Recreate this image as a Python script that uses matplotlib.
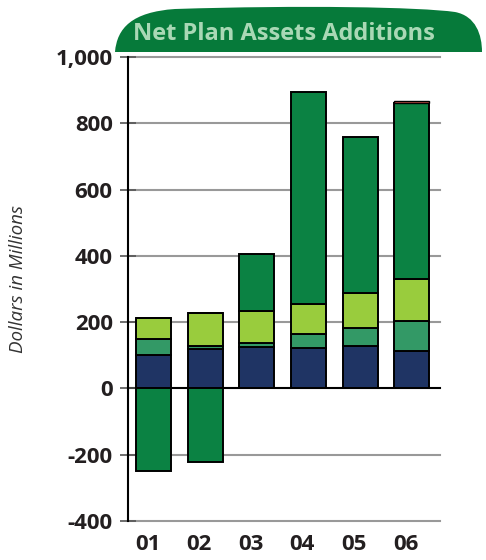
import numpy as np
import matplotlib
matplotlib.use("Agg")
import matplotlib.pyplot as plt
from matplotlib.path import Path
from matplotlib.patches import PathPatch

plt.rcParams["font.family"] = ["Open Sans", "DejaVu Sans"]

years = ["01", "02", "03", "04", "05", "06"]
navy = [100, 120, 124, 121, 127, 112]
teal = [49, 8, 12, 44, 54, 90]
lime = [63, 101, 99, 89, 108, 128]
dgreen = [0, 0, 171, 639, 471, 530]
red = [0, 0, 0, 0, 0, 7]
negative = [-250, -223, 0, 0, 0, 0]

yticks = [-400, -200, 0, 200, 400, 600, 800, 1000]
ytick_labels = ["-400", "-200", "0", "200", "400", "600", "800", "1,000"]

W, H = 486, 560
fig = plt.figure(figsize=(W / 100, H / 100), dpi=100)
ax = fig.add_axes([128 / W, (H - 521) / H, 312 / W, (521 - 57) / H])

x = np.arange(len(years))
width = 0.68
bottom = np.zeros(len(years))
for vals, col in [(navy, "#1f3464"), (teal, "#339966"), (lime, "#99cc3d"),
                  (dgreen, "#0b8243")]:
    v = np.array(vals, dtype=float)
    ax.bar(x, v, width, bottom=bottom, color=col, edgecolor="black",
           linewidth=1.4, zorder=3)
    bottom += v
# thin red slice on top, outlined only where it exists
has_red = np.array(red) > 0
ax.bar(x[has_red], np.array(red)[has_red], width, bottom=bottom[has_red],
       color="#e05a50", edgecolor="black", linewidth=1.0, zorder=4)
ax.bar(x, negative, width, color="#0b8243", edgecolor="black",
       linewidth=1.4, zorder=3)

ax.set_xlim(-0.5, 5.55)
ax.set_ylim(-400, 1000)
ax.set_yticks(yticks)
ax.set_yticklabels(ytick_labels, fontsize=16, fontweight="bold",
                   color="#231f20")
ax.set_xticks(x - 0.12)
ax.set_xticklabels(years, fontsize=16, fontweight="bold", color="#231f20")
ax.tick_params(axis="x", length=0, pad=9)
ax.tick_params(axis="y", length=12, width=1.2, color="#555555",
               direction="inout", pad=5)

for yv in yticks:
    ax.axhline(yv, color="black" if yv == 0 else "#999999", lw=1.5, zorder=1,
               clip_on=False)

for s in ["top", "right", "bottom"]:
    ax.spines[s].set_visible(False)
ax.spines["left"].set_linewidth(1.5)
ax.spines["left"].set_color("black")
ax.spines["left"].set_zorder(5)

fig.text(18 / W, 1 - 279 / H, "Dollars in Millions", rotation=90,
         ha="center", va="center", fontsize=13.5, style="italic",
         color="#333333")

# title banner
pts = [(115, 52), (117, 28), (132, 12), (175, 9),
       (300, 5), (420, 7), (455, 12),
       (476, 16), (482, 35), (482, 52), (115, 52)]
codes = [Path.MOVETO, Path.CURVE4, Path.CURVE4, Path.CURVE4,
         Path.CURVE4, Path.CURVE4, Path.CURVE4,
         Path.CURVE4, Path.CURVE4, Path.CURVE4, Path.CLOSEPOLY]
verts = [(px / W, 1 - py / H) for px, py in pts]
fig.patches.append(PathPatch(Path(verts, codes), transform=fig.transFigure,
                             facecolor="#067a3a", edgecolor="none"))
fig.text(284 / W, 1 - 34 / H, "Net Plan Assets Additions", ha="center",
         va="center", fontsize=17, fontweight="bold", color="#a9d8b5")

fig.savefig("out.png", dpi=100, facecolor="white")
